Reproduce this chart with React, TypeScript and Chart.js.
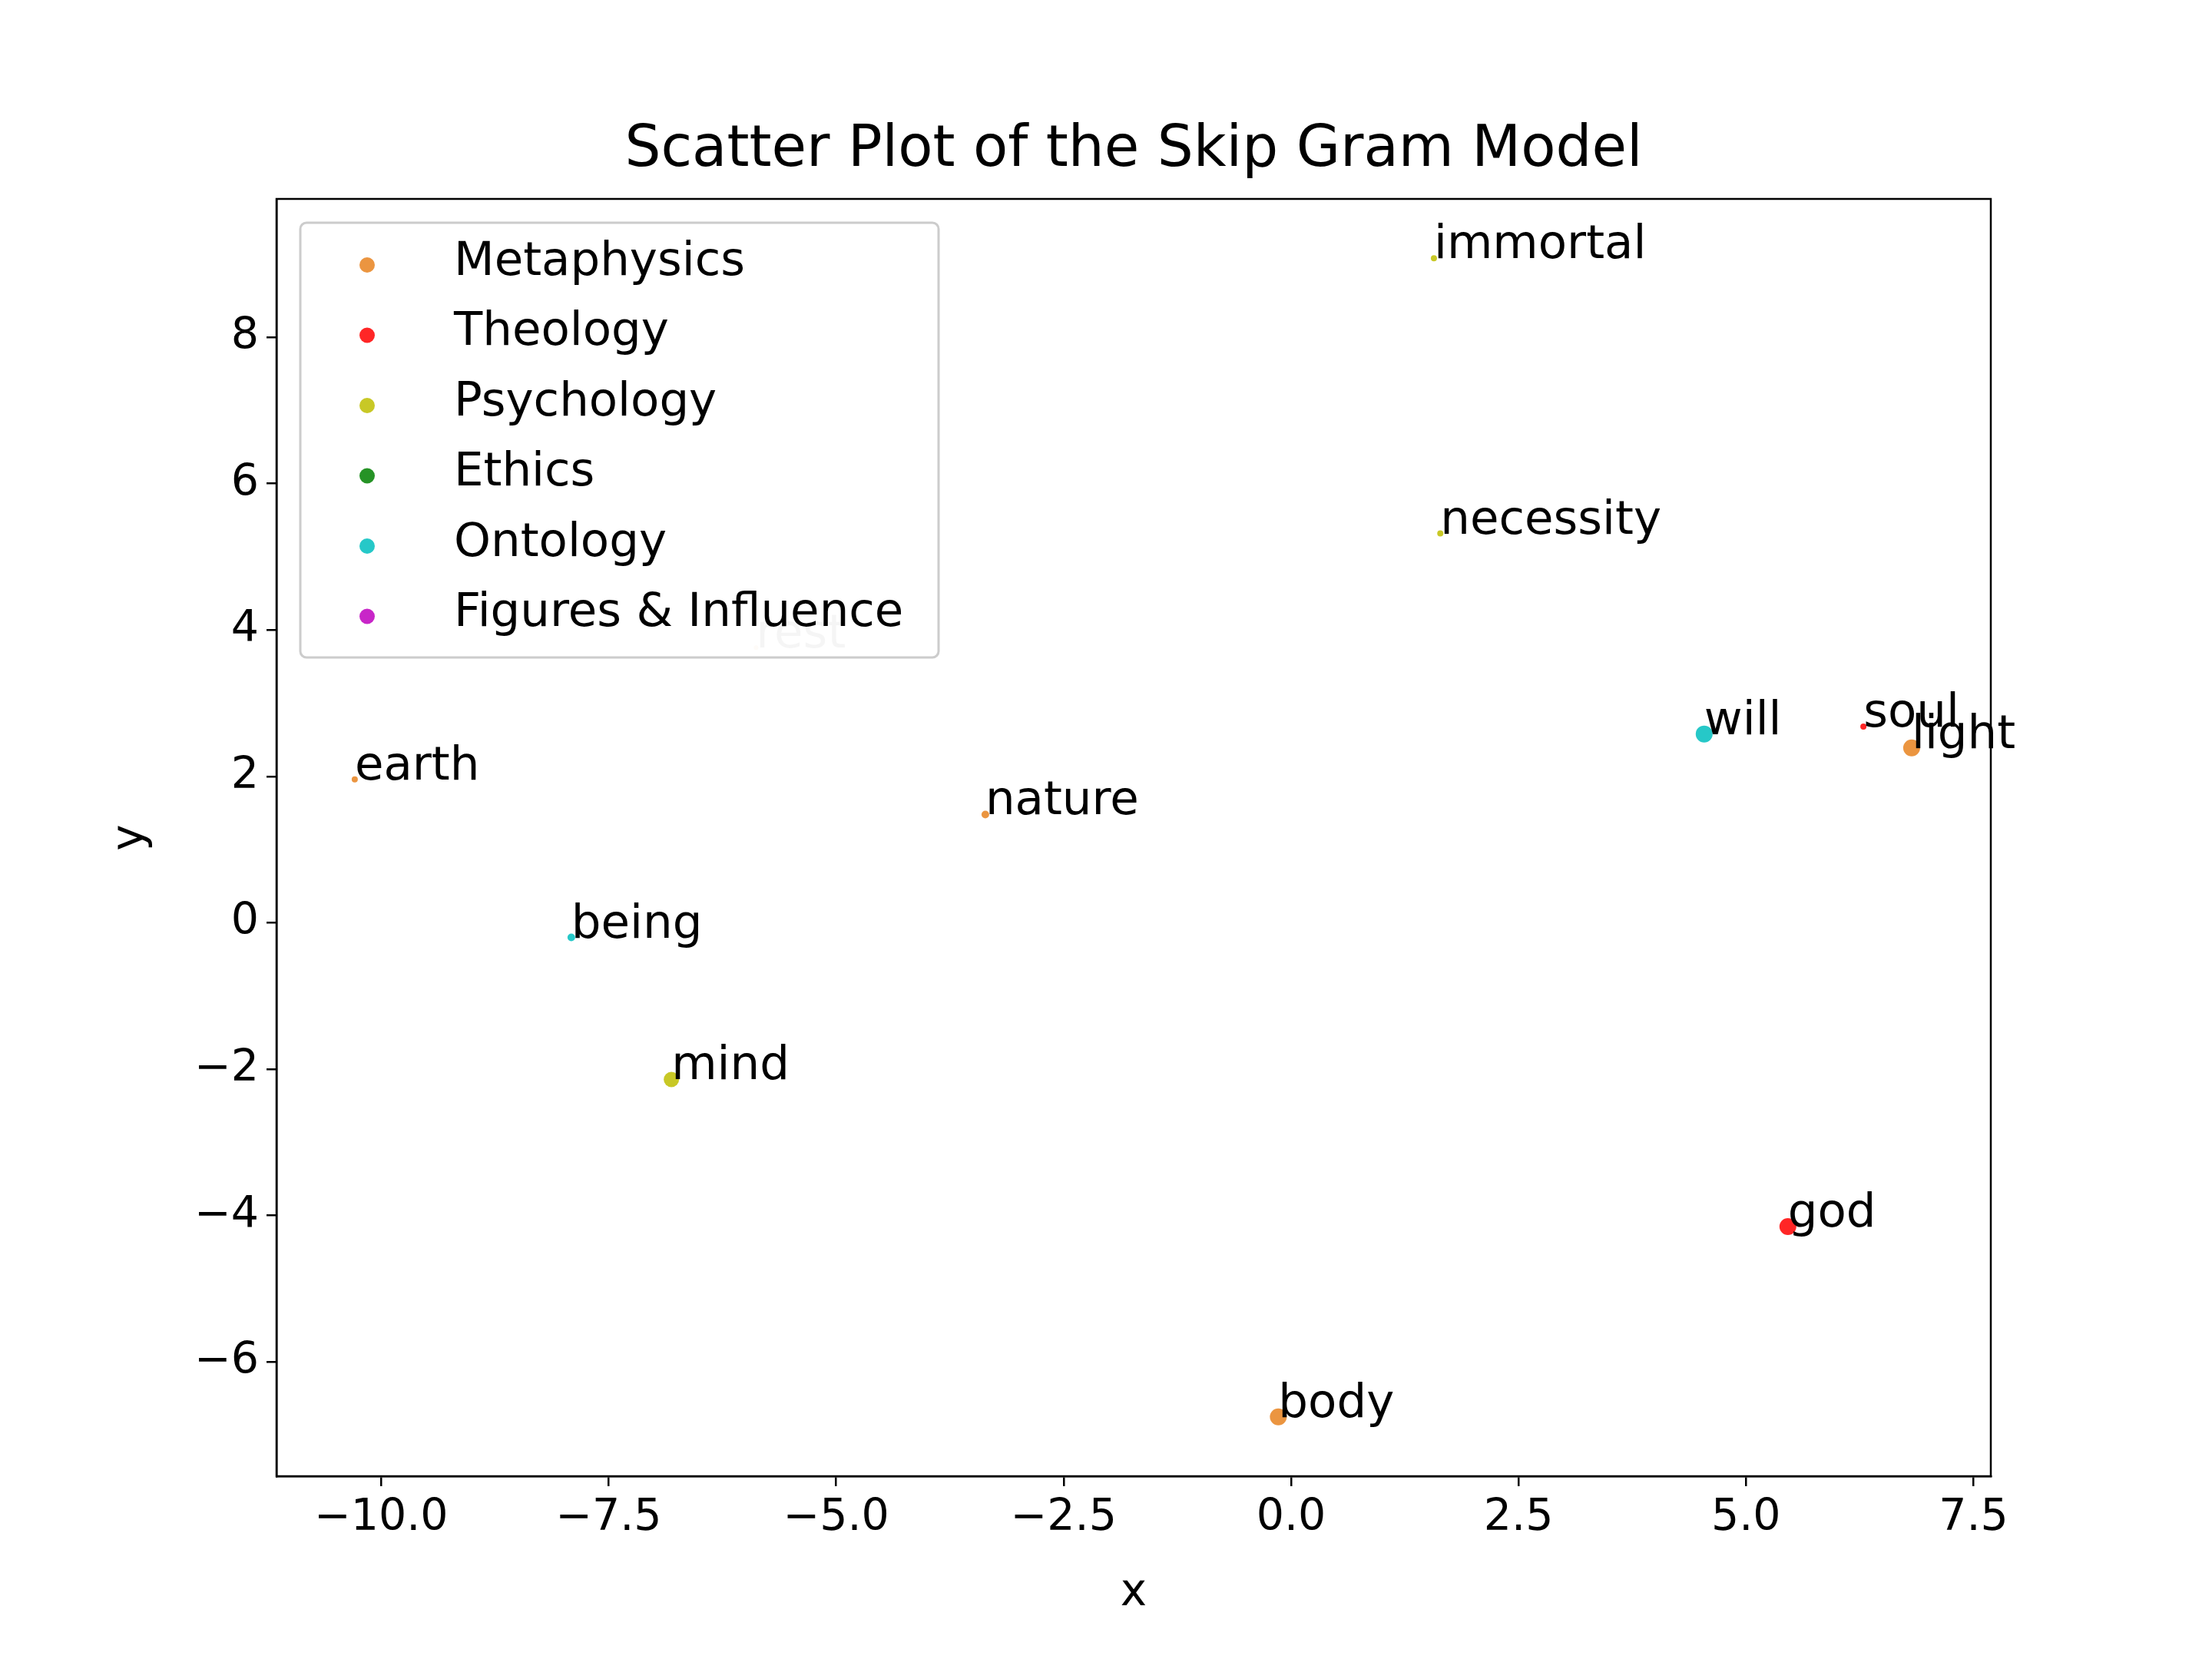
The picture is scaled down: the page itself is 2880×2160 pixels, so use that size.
import React, { useEffect, useRef } from "react";
import Chart from "chart.js/auto";

const categories = ["Metaphysics", "Theology", "Psychology", "Ethics", "Ontology", "Figures & Influence"];
const categoryColors = ["rgba(232,130,30,0.85)", "rgba(255,0,0,0.85)", "rgba(190,190,0,0.85)", "rgba(0,128,0,0.85)", "rgba(0,190,190,0.85)", "rgba(190,0,190,0.85)"];

const words = ["immortal", "necessity", "rest", "earth", "nature", "will", "soul", "light", "being", "mind", "god", "body"];
const wordX = [1.57, 1.64, -5.88, -10.29, -3.36, 4.54, 6.29, 6.82, -7.91, -6.81, 5.46, -0.14];
const wordY = [9.08, 5.32, 3.76, 1.96, 1.48, 2.58, 2.68, 2.39, -0.2, -2.14, -4.15, -6.75];
const wordCategory = [2, 2, 0, 0, 0, 4, 1, 0, 4, 2, 1, 0];
const wordRadius = [4, 4, 3, 4, 5, 11, 4, 11, 5, 10, 11, 11];
const wordAlpha = [1, 1, 0.2, 1, 1, 1, 1, 1, 1, 1, 1, 1];

const xTickValues = [-10, -7.5, -5, -2.5, 0, 2.5, 5, 7.5];
const yTickValues = [-6, -4, -2, 0, 2, 4, 6, 8];

const FONT = "DejaVu Sans, sans-serif";
const minus = (s: string) => s.replace("-", "\u2212");

export default function App() {
  const canvasRef = useRef<HTMLCanvasElement>(null);

  useEffect(() => {
    document.body.style.margin = "0";
    const ctx = canvasRef.current!.getContext("2d")!;

    const datasets = categories.map((cat, ci) => {
      const idx = words.map((_, i) => i).filter((i) => wordCategory[i] === ci);
      return {
        label: cat,
        data: idx.map((i) => ({ x: wordX[i], y: wordY[i] })),
        words: idx.map((i) => words[i]),
        alphas: idx.map((i) => wordAlpha[i]),
        backgroundColor: idx.map((i) =>
          categoryColors[ci].replace("0.85)", `${0.85 * wordAlpha[i]})`)
        ),
        pointRadius: idx.map((i) => wordRadius[i]),
        borderWidth: 0,
      };
    });

    const overlay = {
      id: "overlay",
      afterDraw(chart: Chart) {
        const c = chart.ctx;
        const { left, right, top, bottom } = chart.chartArea;
        const xs = chart.scales.x;
        const ys = chart.scales.y;
        c.save();
        // frame
        c.strokeStyle = "#000";
        c.lineWidth = 2.5;
        c.strokeRect(left, top, right - left, bottom - top);
        // word labels
        c.font = `61px ${FONT}`;
        c.textBaseline = "alphabetic";
        c.textAlign = "left";
        chart.data.datasets.forEach((ds: any) => {
          ds.data.forEach((p: any, j: number) => {
            c.fillStyle = `rgba(0,0,0,${ds.alphas[j]})`;
            c.fillText(ds.words[j], xs.getPixelForValue(p.x), ys.getPixelForValue(p.y));
          });
        });
        // title and axis titles
        c.fillStyle = "#000";
        c.textAlign = "center";
        c.textBaseline = "middle";
        c.font = `74px ${FONT}`;
        c.fillText("Scatter Plot of the Skip Gram Model", (left + right) / 2, 197);
        c.font = `58px ${FONT}`;
        c.fillText("x", (left + right) / 2, 2075);
        c.save();
        c.translate(171, (top + bottom) / 2);
        c.rotate(-Math.PI / 2);
        c.fillText("y", 0, 0);
        c.restore();
        // legend
        const lx = 391, ly = 290, lw = 831, lh = 566;
        c.fillStyle = "rgba(255,255,255,0.8)";
        c.strokeStyle = "#ccc";
        c.lineWidth = 3;
        c.beginPath();
        c.roundRect(lx, ly, lw, lh, 8);
        c.fill();
        c.stroke();
        c.font = `61px ${FONT}`;
        c.textAlign = "left";
        categories.forEach((cat, i) => {
          const cy = 342 + i * 91.5;
          c.fillStyle = categoryColors[i];
          c.beginPath();
          c.arc(478, cy + 3, 10, 0, Math.PI * 2);
          c.fill();
          c.fillStyle = "#000";
          c.fillText(cat, 591, cy);
        });
        c.restore();
      },
    };

    const chart = new Chart(ctx, {
      type: "scatter",
      data: { datasets: datasets as any },
      options: {
        animation: false,
        responsive: false,
        devicePixelRatio: 1,
        layout: { padding: { top: 259, right: 288, left: 0, bottom: 0 } },
        plugins: { legend: { display: false }, tooltip: { enabled: false } },
        scales: {
          x: {
            type: "linear",
            min: -11.15,
            max: 7.69,
            afterBuildTicks: (s: any) => {
              s.ticks = xTickValues.map((v) => ({ value: v }));
            },
            afterFit: (s: any) => {
              s.height = 238;
            },
            grid: { drawOnChartArea: false, drawTicks: true, tickLength: 13, color: "#000", lineWidth: 2.5 },
            border: { display: true, color: "#000", width: 2.5 },
            ticks: {
              color: "#000",
              font: { family: FONT, size: 57 },
              padding: 8,
              maxRotation: 0,
              callback: (v: any) => minus(Number(v).toFixed(1)),
            },
          },
          y: {
            type: "linear",
            min: -7.56,
            max: 9.89,
            afterBuildTicks: (s: any) => {
              s.ticks = yTickValues.map((v) => ({ value: v }));
            },
            afterFit: (s: any) => {
              s.width = 360;
            },
            grid: { drawOnChartArea: false, drawTicks: true, tickLength: 13, color: "#000", lineWidth: 2.5 },
            border: { display: true, color: "#000", width: 2.5 },
            ticks: {
              color: "#000",
              font: { family: FONT, size: 57 },
              padding: 10,
              callback: (v: any) => minus(String(v)),
            },
          },
        },
      },
      plugins: [overlay],
    });
    return () => chart.destroy();
  }, []);

  return (
    <div style={{ width: 2880, height: 2160, background: "#fff" }}>
      <canvas ref={canvasRef} width={2880} height={2160} style={{ width: 2880, height: 2160 }} />
    </div>
  );
}
